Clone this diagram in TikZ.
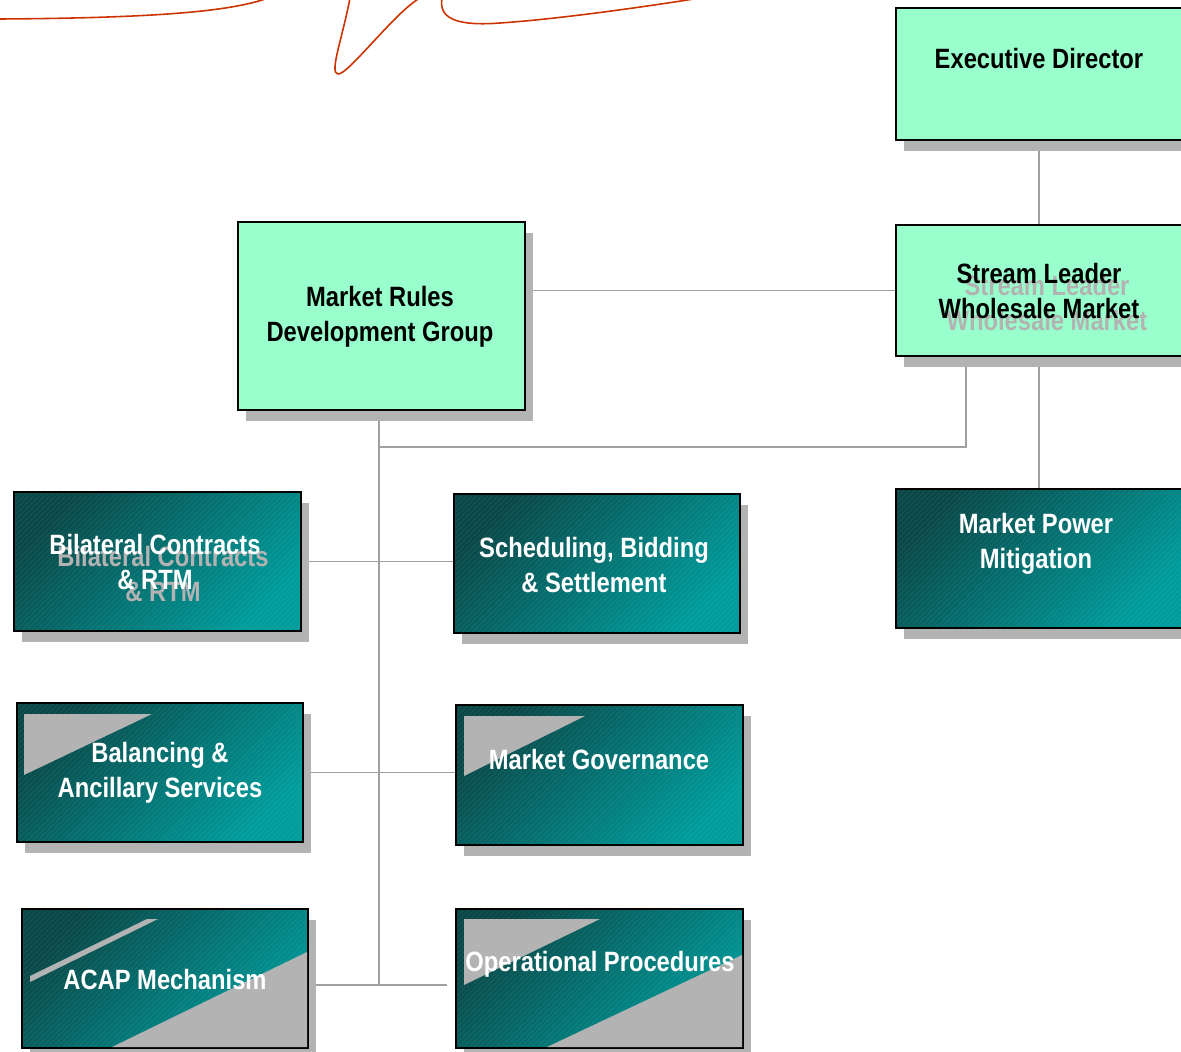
\documentclass[tikz,border=0pt]{standalone}
\usepackage{fontspec}
\setmainfont{Liberation Sans}[FakeStretch=0.85]
\usetikzlibrary{shadows, patterns, backgrounds}

\definecolor{mint}{HTML}{99FFCC}
\definecolor{tealdk}{HTML}{0A4848}
\definecolor{teallt}{HTML}{009C9C}
\definecolor{shade}{HTML}{B3B3B3}
\definecolor{wire}{HTML}{A0A0A0}
\definecolor{scribble}{HTML}{CC3300}

\tikzset{
  box/.style={draw=black, line width=1.1pt, inner sep=0, minimum width=5.72cm, minimum height=2.78cm,
    general shadow={fill=shade, shadow xshift=0.16cm, shadow yshift=-0.22cm}},
  greenbox/.style={box, fill=mint},
  tealbox/.style={box, top color=tealdk, bottom color=teallt, shading angle=45,
    postaction={pattern=north east lines, pattern color=white, opacity=0.07},
    postaction={draw=black, line width=1.1pt}},
  boxtext/.style={inner sep=0, align=center, font=\bfseries\fontsize{15.9pt}{20.2pt}\selectfont},
  darktext/.style={boxtext, text=black},
  lighttext/.style={boxtext, text=white},
  ghosttext/.style={boxtext, text=shade},
  wedge/.style={fill=shade, draw=none},
  wire/.style={draw=wire, line width=1.1pt}
}

\begin{document}
\begin{tikzpicture}[x=0.02cm, y=-0.02cm]

\useasboundingbox (0,0) rectangle (1181,1052);
\clip (0,0) rectangle (1181,1052);

% pen strokes along the top
\draw[scribble, line width=0.9pt] (0,19) .. controls (150,18) and (230,12) .. (268,-2);
\draw[scribble, line width=0.9pt] (350,-2) .. controls (342,40) and (329,73) .. (338,74)
  .. controls (348,75) and (395,12) .. (420,-2);
\draw[scribble, line width=0.9pt] (442,-2) .. controls (438,20) and (460,26) .. (500,23)
  .. controls (560,19) and (650,6) .. (700,-2);

% boxes
\node[greenbox, minimum height=2.64cm] (exec) at (1039,74) {};
\node[greenbox, minimum height=2.62cm] (stream) at (1039,290.5) {};
\node[greenbox, minimum width=5.74cm, minimum height=3.76cm] (rules) at (381.5,316) {};
\node[tealbox] (power) at (1039,558.5) {};
\node[tealbox, minimum width=5.74cm] (bilat) at (157.5,561.5) {};
\node[tealbox] (sched) at (597,563.5) {};
\node[tealbox] (bal) at (160,772.5) {};
\node[tealbox, minimum width=5.74cm, minimum height=2.80cm] (gov) at (599.5,775) {};
\node[tealbox] (acap) at (165,978.5) {};
\node[tealbox, minimum width=5.74cm] (ops) at (599.5,978.5) {};

% grey wedges
\fill[wedge] (24,714) -- (152,714) -- (24,775) -- cycle;
\fill[wedge] (464,716) -- (585,716) -- (464,776) -- cycle;
\fill[wedge] (30,976) -- (147,919) -- (158,919) -- (30,982) -- cycle;
\fill[wedge] (112,1047) -- (307,952) -- (307,1047) -- cycle;
\fill[wedge] (464,919) -- (600,919) -- (464,985) -- cycle;
\fill[wedge] (547,1047) -- (742,955) -- (742,1047) -- cycle;

% texts
\node[darktext] (exec-t) at (1039,59) {Executive Director};
\node[ghosttext] (stream-g) at (1047,303) {Stream Leader\\Wholesale Market};
\node[darktext] (stream-t) at (1039,291) {Stream Leader\\Wholesale Market};
\node[darktext] (rules-t) at (380,317) {Market Rules\\Development Group};
\node[lighttext] (power-t) at (1036,544) {Market Power\\Mitigation};
\node[ghosttext] (bilat-g) at (163,574) {Bilateral Contracts\\\& RTM};
\node[lighttext] (bilat-t) at (155,562) {Bilateral Contracts\\\& RTM};
\node[lighttext] (sched-t) at (594,565) {Scheduling, Bidding\\\& Settlement};
\node[lighttext] (bal-t) at (160,773) {Balancing \&\\Ancillary Services};
\node[lighttext] (gov-t) at (599,760) {Market Governance};
\node[lighttext] (acap-t) at (165,980) {ACAP Mechanism};
\node[lighttext] (ops-t) at (600,964) {Operational Procedures};

\coordinate (hub) at (379,447);
\coordinate (ops-in) at (447,985);

% connectors
\begin{scope}[on background layer]
\draw[wire] (exec.south) -- (stream.north);
\draw[wire] (stream.west) -- (stream.west -| rules.east);
\draw[wire] (stream.south) -- (power.north);
\draw[wire] ([xshift=-1.46cm]stream.south) |- (hub);
\draw[wire] (hub |- rules.south) -- (hub |- ops-in);
\draw[wire] (bilat.east) -- (bilat.east -| sched.west);
\draw[wire] (bal.east) -- (bal.east -| gov.west);
\draw[wire] (acap.east |- ops-in) -- (ops-in);
\end{scope}

\end{tikzpicture}
\end{document}
